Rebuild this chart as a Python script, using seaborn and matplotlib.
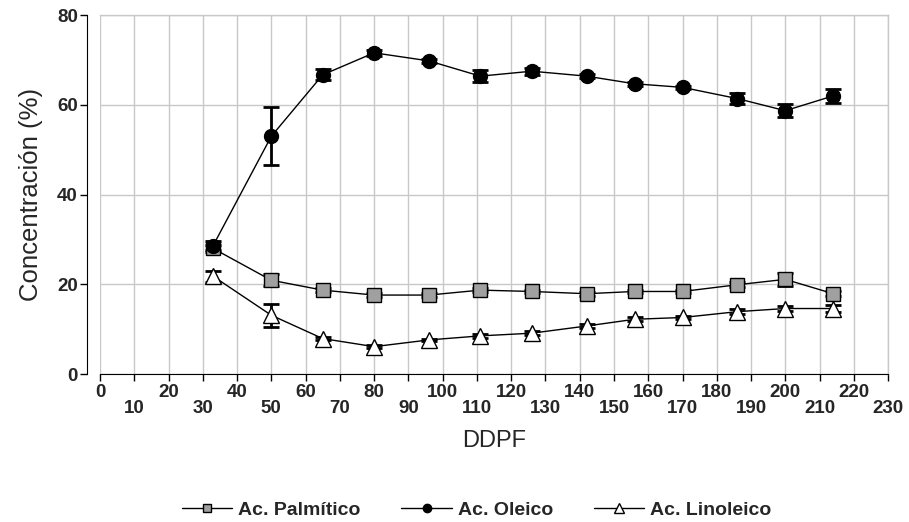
"""
Fatty acid concentration vs DDPF.
"""
import matplotlib
matplotlib.use("Agg")
import matplotlib.pyplot as plt
import numpy as np
import pandas as pd
import seaborn as sns

ddpf = [33, 50, 65, 80, 96, 111, 126, 142, 156, 170, 186, 200, 214]

palmitico = [28.0, 20.9, 18.7, 17.6, 17.6, 18.7, 18.4, 17.9, 18.4, 18.4, 19.9, 21.1, 17.9]
palmitico_err = [0.8, 1.3, 0.4, 0.4, 0.4, 0.5, 0.4, 0.4, 0.4, 0.4, 0.5, 1.4, 0.5]

oleico = [28.6, 53.0, 66.7, 71.6, 69.8, 66.4, 67.5, 66.4, 64.7, 63.9, 61.4, 58.7, 62.0]
oleico_err = [1.0, 6.5, 1.2, 0.7, 0.4, 1.3, 0.8, 0.4, 0.4, 0.4, 1.3, 1.5, 1.5]

linoleico = [21.8, 13.1, 7.9, 6.1, 7.6, 8.5, 9.1, 10.7, 12.2, 12.6, 13.9, 14.6, 14.6]
linoleico_err = [1.2, 2.6, 0.4, 0.3, 0.3, 0.4, 0.4, 0.4, 0.4, 0.4, 0.5, 0.5, 0.8]

series = [
    ("Ac. Palmítico", palmitico, palmitico_err, "s", "#a0a0a0", 10),
    ("Ac. Oleico", oleico, oleico_err, "o", "black", 10),
    ("Ac. Linoleico", linoleico, linoleico_err, "^", "white", 11),
]

sns.set_style("white")
plt.rcParams["font.family"] = ["Liberation Sans", "DejaVu Sans"]

fig = plt.figure(figsize=(9.09, 5.22), dpi=100)
ax = fig.add_axes([0.110, 0.2835, 0.867, 0.6875])
# y axis sits a little left of the plot area (set before tick formatting)
ax.spines["left"].set_position(("outward", 9))

for name, vals, err, mk, fc, ms in series:
    df = pd.DataFrame({"DDPF": ddpf, "val": vals})
    ax.errorbar(ddpf, vals, yerr=err, fmt="none", ecolor="black",
                elinewidth=2, capsize=6, capthick=2, zorder=2)
    sns.lineplot(data=df, x="DDPF", y="val", ax=ax, color="black", lw=1,
                 marker=mk, markersize=ms, markerfacecolor=fc,
                 markeredgecolor="black", markeredgewidth=1,
                 label=name, zorder=3)

ax.set_xlim(0, 230)
ax.set_ylim(0, 80)
xt = np.arange(0, 231, 10)
ax.set_xticks(xt)
ax.set_xticklabels([str(v) if (v // 10) % 2 == 0 else "\n" + str(v) for v in xt],
                   fontsize=13.5, fontweight="bold", linespacing=0.95)
ax.set_yticks([0, 20, 40, 60, 80])
ax.set_yticklabels(["0", "20", "40", "60", "80"], fontsize=13.5, fontweight="bold")
ax.tick_params(axis="both", direction="out", length=5, width=1, color="black",
               left=True, bottom=True, pad=2)

ax.grid(True, color="#c8c8c8", lw=1)
ax.set_axisbelow(True)
for s in ["top", "right"]:
    ax.spines[s].set_color("#c8c8c8")
    ax.spines[s].set_linewidth(1)
ax.spines["left"].set_color("black")
ax.spines["bottom"].set_color("black")

ax.set_xlabel("DDPF", fontsize=17, labelpad=9)
ax.set_ylabel("Concentración (%)", fontsize=18.5, labelpad=10)

ax.legend(loc="upper center", bbox_to_anchor=(0.478, -0.305), ncol=3, frameon=False,
          prop={"weight": "bold", "size": 14}, handlelength=2.6, handletextpad=0.3,
          columnspacing=2.1, markerscale=0.6)

fig.savefig("out.png", dpi=100)
